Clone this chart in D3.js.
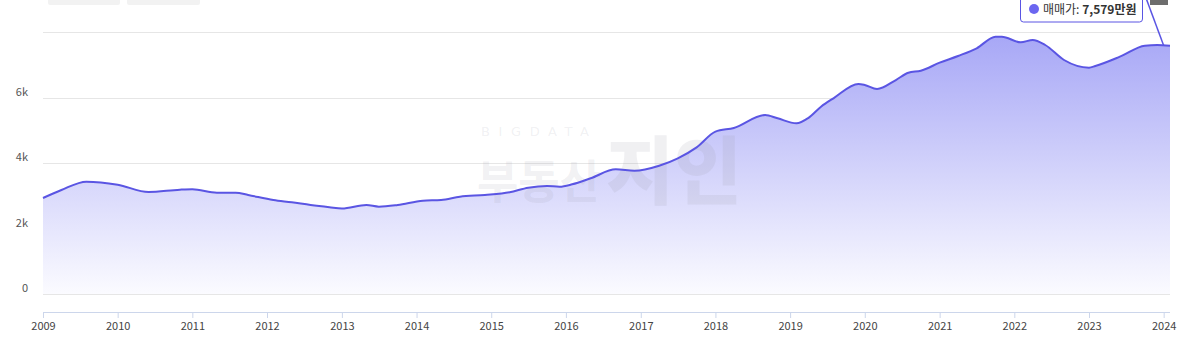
<!DOCTYPE html>
<html><head><meta charset="utf-8">
<script src="https://cdn.jsdelivr.net/npm/d3@7"></script>
<style>
html,body{margin:0;padding:0;background:#fff;overflow:hidden}
svg{display:block;font-family:"Noto Sans CJK KR","Noto Sans",sans-serif}
</style></head>
<body><svg id="c" width="1187" height="339"></svg>
<script>
const months = ["2009-01","2009-04","2009-08","2010-01","2010-06","2010-11","2011-01","2011-05","2011-08","2011-10",
"2012-02","2012-05","2012-08","2012-11","2013-01","2013-05","2013-07","2013-10","2014-02","2014-05","2014-08","2014-12",
"2015-04","2015-07","2015-10","2015-12","2016-02","2016-05","2016-09","2016-12","2017-04","2017-07","2017-10",
"2018-01","2018-04","2018-09","2018-11","2019-02","2019-04","2019-06","2019-08","2019-12","2020-01","2020-03","2020-06",
"2020-08","2020-10","2021-01","2021-04","2021-07","2021-10","2021-11","2022-02","2022-04","2022-06","2022-09",
"2023-01","2023-02","2023-06","2023-10","2023-12","2024-02"];
const prices = [2931,3176,3429,3337,3115,3185,3197,3093,3093,3023,
2870,2800,2718,2650,2610,2718,2666,2718,2849,2870,2971,3023,
3105,3246,3298,3277,3350,3533,3808,3765,3918,4144,4479,
4956,5070,5466,5365,5212,5380,5719,5976,6412,6382,6260,6534,
6757,6818,7063,7267,7502,7856,7856,7685,7756,7603,7145,
6910,6962,7246,7582,7600,7579];
const yTicks = [0,2000,4000,6000,8000];
const yTickLabels = ["0","2k","4k","6k",""];
const xTickYears = [2009,2010,2011,2012,2013,2014,2015,2016,2017,2018,2019,2020,2021,2022,2023,2024];
const seriesName = "매매가";
const tooltipValue = "7,579만원";

const parse = d3.timeParse("%Y-%m");
const data = months.map((m,i)=>({d:parse(m), v:prices[i]}));

const svg = d3.select("#c");
const x = d3.scaleTime().domain([parse("2009-01"), parse("2024-02")]).range([43,1170]);
const y = d3.scaleLinear().domain([0,8000]).range([294,32]);

// top-left buttons (cut off)
svg.append("rect").attr("x",48).attr("y",-20).attr("width",72).attr("height",25).attr("rx",2).attr("fill","#f2f2f2");
svg.append("rect").attr("x",127).attr("y",-20).attr("width",73).attr("height",25).attr("rx",2).attr("fill","#f2f2f2");

// gradient
const defs = svg.append("defs");
const g = defs.append("linearGradient").attr("id","fillg").attr("gradientUnits","userSpaceOnUse")
  .attr("x1",0).attr("x2",0).attr("y1",y(8000)).attr("y2",y(0));
g.append("stop").attr("offset","0%").attr("stop-color","#a6a6f6");
g.append("stop").attr("offset","100%").attr("stop-color","#fbfbff");

// grid
svg.append("g").selectAll("line").data(yTicks).join("line")
  .attr("x1",43).attr("x2",1170).attr("y1",d=>Math.round(y(d))+0.5).attr("y2",d=>Math.round(y(d))+0.5)
  .attr("stroke","#e6e6e6").attr("stroke-width",1);

// area + line
const curve = d3.curveMonotoneX;
svg.append("path").datum(data).attr("fill","url(#fillg)")
  .attr("d", d3.area().x(d=>x(d.d)).y0(y(0)).y1(d=>y(d.v)).curve(curve));

// watermark
const wm = svg.append("g").attr("fill","#9a9aa8").attr("fill-opacity",0.15);
wm.append("text").attr("x",481).attr("y",136).attr("font-size",13).attr("textLength",108).attr("lengthAdjust","spacing")
  .attr("font-family","DejaVu Sans").text("BIGDATA");
wm.append("text").attr("x",477).attr("y",198).attr("font-size",46).attr("font-weight",700)
  .attr("textLength",124).attr("lengthAdjust","spacingAndGlyphs").text("부동산");
wm.append("text").attr("x",606).attr("y",198).attr("font-size",74).attr("font-weight",900)
  .attr("textLength",136).attr("lengthAdjust","spacingAndGlyphs").text("지인");

svg.append("path").datum(data).attr("fill","none").attr("stroke","#5a55e3").attr("stroke-width",2)
  .attr("d", d3.line().x(d=>x(d.d)).y(d=>y(d.v)).curve(curve));

// y labels
svg.append("g").selectAll("text").data(yTicks).join("text")
  .attr("x",28).attr("y",d=>y(d)-2).attr("text-anchor","end").attr("font-size",11).attr("fill","#555")
  .text((d,i)=>yTickLabels[i]);

// x axis
const xa = svg.append("g").attr("transform","translate(0,312)")
  .call(d3.axisBottom(x).tickValues(xTickYears.map(yr=>new Date(yr,0,1))).tickFormat(d3.timeFormat("%Y")).tickSize(6).tickSizeOuter(0));
xa.select(".domain").attr("stroke","#ccd6eb").attr("d","M43,0.5H1170");
xa.selectAll(".tick line").attr("stroke","#ccd6eb").attr("y1",-6).attr("y2",0).attr("transform","translate(0,6)");
xa.selectAll(".tick text").attr("font-size",11).attr("fill","#444").attr("dy","0.95em").attr("y",8)
  .attr("font-family","\"Noto Sans CJK KR\",sans-serif");

// tooltip
svg.append("path").attr("d",`M1146,-2L${x(parse("2024-01"))},${y(7590)}`).attr("stroke","#5a55e3").attr("stroke-width",1.5).attr("fill","none");
const tip = svg.append("g");
tip.append("rect").attr("x",1020.5).attr("y",-12).attr("width",122).attr("height",34).attr("rx",3)
  .attr("fill","#fff").attr("stroke","#5a55e3").attr("stroke-width",1);
tip.append("circle").attr("cx",1034).attr("cy",9).attr("r",5).attr("fill","#6b66f0");
const tt = tip.append("text").attr("x",1043).attr("y",13.5).attr("font-size",12).attr("fill","#333");
tt.append("tspan").text(seriesName+": ");
tt.append("tspan").attr("font-weight",700).text(tooltipValue);

// top-right icon
svg.append("rect").attr("x",1150).attr("y",-10).attr("width",18).attr("height",15).attr("fill","#6d6d6d");
</script></body></html>
